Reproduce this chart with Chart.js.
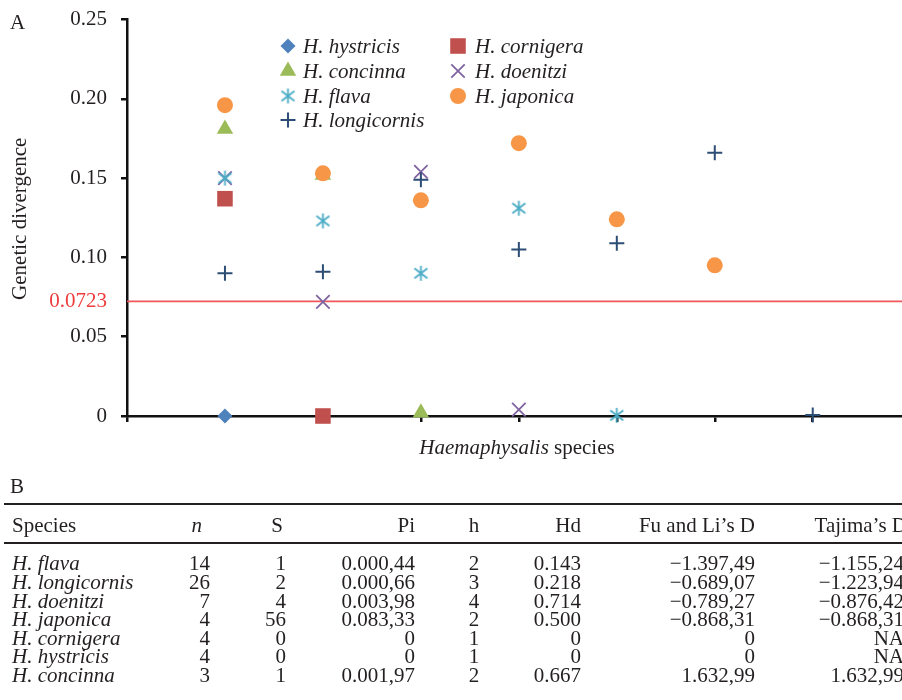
<!DOCTYPE html>
<html>
<head>
<meta charset="utf-8">
<script src="https://cdn.jsdelivr.net/npm/chart.js@4.4.0/dist/chart.umd.min.js"></script>
<style>
html,body{margin:0;padding:0;background:#fff;overflow:hidden;width:902px;height:700px}
#wrap{position:relative;width:902px;height:700px;overflow:hidden;font-family:"Liberation Serif","Times New Roman",serif;color:#231f20}
#chart{position:absolute;left:0;top:0}
#tbl{position:absolute;left:0;top:0;width:1000px;height:700px}
.t{position:absolute;font-size:21px;line-height:21px;white-space:nowrap}
.rule{position:absolute;left:4px;width:990px;background:#231f20}
</style>
</head>
<body>
<div id="wrap">
  <canvas id="chart" width="922" height="470"></canvas>
  <div id="tbl"></div>
</div>
<script>
// ---- data (panel A) ----
// x = 1..7 : compared species, same order as the series below
const seriesNames = ['H. hystricis','H. cornigera','H. concinna','H. doenitzi','H. flava','H. japonica','H. longicornis']
const hystricis   = [0]
const cornigera   = [0.137, 0]
const concinna    = [0.181, 0.152, 0.002]
const doenitzi    = [0.150, 0.072, 0.154, 0.004]
const flava       = [0.150, 0.123, 0.090, 0.131, 0.0004]
const japonica    = [0.196, 0.153, 0.136, 0.172, 0.124, 0.095]
const longicornis = [0.090, 0.091, 0.149, 0.105, 0.109, 0.166, 0.0007]
const seriesValues = [hystricis, cornigera, concinna, doenitzi, flava, japonica, longicornis]
const threshold = 0.0723
const yTicks = [0, 0.05, 0.10, 0.15, 0.20, 0.25]
const yTickLabels = ['0','0.05','0.10','0.15','0.20','0.25']

// ---- data (panel B) ----
const tableHead = ['Species','n','S','Pi','h','Hd','Fu and Li\u2019s D','Tajima\u2019s D']
const species = ['H. flava','H. longicornis','H. doenitzi','H. japonica','H. cornigera','H. hystricis','H. concinna']
const nVals = ['14','26','7','4','4','4','3']
const sVals = ['1','2','4','56','0','0','1']
const piVals = ['0.000,44','0.000,66','0.003,98','0.083,33','0','0','0.001,97']
const hVals = ['2','3','4','2','1','1','2']
const hdVals = ['0.143','0.218','0.714','0.500','0','0','0.667']
const fuLiVals = ['\u22121.397,49','\u22120.689,07','\u22120.789,27','\u22120.868,31','0','0','1.632,99']
const tajimaVals = ['\u22121.155,24','\u22121.223,94','\u22120.876,42','\u22120.868,31','NA','NA','1.632,99']

const FONT = '"Liberation Serif", "Times New Roman", serif'
const INK = '#231f20'

// asterisk marker (x + vertical bar)
function makeAsterisk(color){
  const c = document.createElement('canvas')
  c.width = 17; c.height = 17
  const g = c.getContext('2d')
  g.strokeStyle = color; g.lineWidth = 1.8
  g.beginPath()
  g.moveTo(8.5,1); g.lineTo(8.5,16)
  g.moveTo(2,3.5); g.lineTo(15,13.5)
  g.moveTo(15,3.5); g.lineTo(2,13.5)
  g.stroke()
  return c
}

const styles = [
  {color:'#4F81BD', shape:'rectRot',  r:7.5, bw:0},
  {color:'#C0504D', shape:'rect',     r:11,  bw:0},
  {color:'#9BBB59', shape:'triangle', r:9.5, bw:0},
  {color:'#8064A2', shape:'crossRot', r:9.5, bw:1.8},
  {color:'#4BACC6', shape:makeAsterisk('#4BACC6'), r:8, bw:1.8},
  {color:'#F79646', shape:'circle',   r:8,   bw:0},
  {color:'#2C4D75', shape:'cross',    r:7.5, bw:2}
]

const datasets = seriesValues.map((vals, i) => ({
  label: seriesNames[i],
  data: vals.map((v, j) => ({x: j + 1, y: v})),
  showLine: false,
  pointStyle: styles[i].shape,
  pointRadius: styles[i].r,
  pointHoverRadius: styles[i].r,
  pointBackgroundColor: styles[i].color,
  pointBorderColor: styles[i].color,
  pointBorderWidth: styles[i].bw,
  order: seriesValues.length - i,   // later series on top, like the original
  clip: false
}))
// threshold line
datasets.push({
  label: 'threshold',
  data: [{x: 0, y: threshold}, {x: 8, y: threshold}],
  showLine: true,
  borderColor: '#F0575A',
  borderWidth: 1.6,
  pointRadius: 0,
  order: 100
})

// legend + axis titles drawn on the canvas
const decor = {
  id: 'decor',
  afterDraw(chart){
    const {ctx, chartArea} = chart
    ctx.save()
    ctx.fillStyle = INK
    ctx.font = '21px ' + FONT
    ctx.textAlign = 'center'
    ctx.textBaseline = 'middle'
    ctx.translate(20, (chartArea.top + chartArea.bottom) / 2 + 1)
    ctx.rotate(-Math.PI / 2)
    ctx.fillText('Genetic divergence', 0, 0)
    ctx.restore()

    // x title: italic genus + plain word
    ctx.save()
    ctx.fillStyle = INK
    ctx.textBaseline = 'alphabetic'
    ctx.textAlign = 'left'
    const part1 = 'Haemaphysalis', part2 = ' species'
    ctx.font = 'italic 21px ' + FONT
    const w1 = ctx.measureText(part1).width
    ctx.font = '21px ' + FONT
    const w2 = ctx.measureText(part2).width
    let x0 = 517 - (w1 + w2) / 2
    ctx.font = 'italic 21px ' + FONT
    ctx.fillText(part1, x0, 454)
    ctx.font = '21px ' + FONT
    ctx.fillText(part2, x0 + w1, 454)
    ctx.restore()

    // legend, two columns, row-major
    const colX = [288, 458], textX = [303, 475], rowY = [46, 71, 96, 120]
    ctx.save()
    ctx.font = 'italic 21px ' + FONT
    ctx.textBaseline = 'middle'
    ctx.textAlign = 'left'
    seriesNames.forEach((name, i) => {
      const c = i % 2, r = Math.floor(i / 2)
      const st = styles[i]
      ctx.fillStyle = st.color
      ctx.strokeStyle = st.color
      ctx.lineWidth = st.bw
      if (Chart.helpers && Chart.helpers.drawPoint) {
        Chart.helpers.drawPoint(ctx, {pointStyle: st.shape, radius: st.r, rotation: 0, borderWidth: st.bw}, colX[c], rowY[r])
      }
      ctx.fillStyle = INK
      ctx.fillText(name, textX[c], rowY[r] + 1)
    })
    ctx.restore()
  }
}

const ctx = document.getElementById('chart').getContext('2d')
const myChart = new Chart(ctx, {
  type: 'scatter',
  data: {datasets: datasets},
  plugins: [decor],
  options: {
    responsive: false,
    animation: false,
    events: [],
    layout: {padding: {top: 19.5, right: 0, bottom: 0, left: 0}},
    plugins: {legend: {display: false}, tooltip: {enabled: false}},
    scales: {
      x: {
        type: 'linear',
        min: 0, max: 8,
        ticks: {display: false, stepSize: 1},
        grid: {drawOnChartArea: false, drawTicks: true, tickLength: 6, lineWidth: 2.5, color: '#111'},
        border: {display: true, color: '#111', width: 2.5},
        afterFit: s => { s.height = 54; s.paddingLeft = 0; s.paddingRight = 0 }
      },
      y: {
        min: 0, max: 0.25,
        afterBuildTicks: s => { s.ticks = yTicks.concat([threshold]).map(v => ({value: v})) },
        ticks: {
          autoSkip: false,
          padding: 14,
          font: {family: FONT, size: 21},
          color: c => (c.tick && c.tick.value === threshold) ? '#EE3B3B' : INK,
          callback: v => v === threshold ? String(threshold) : yTickLabels[yTicks.indexOf(v)]
        },
        grid: {
          drawOnChartArea: false, drawTicks: true, tickLength: 6, lineWidth: 2.5,
          color: '#111',
          tickColor: c => (c.tick && c.tick.value === threshold) ? 'rgba(0,0,0,0)' : '#111'
        },
        border: {display: true, color: '#111', width: 2.5},
        afterFit: s => { s.width = 127; s.paddingTop = 0; s.paddingBottom = 0 }
      }
    }
  }
})

// ---- table (panel B) ----
const tbl = document.getElementById('tbl')
function place(text, align, x, baseline, italic){
  const d = document.createElement('div')
  d.className = 't'
  d.textContent = text
  d.style.top = (baseline - 17.6) + 'px'
  if (italic) d.style.fontStyle = 'italic'
  if (align === 'left') { d.style.left = x + 'px' }
  else if (align === 'right') { d.style.left = (x - 300) + 'px'; d.style.width = '300px'; d.style.textAlign = 'right' }
  else { d.style.left = (x - 150) + 'px'; d.style.width = '300px'; d.style.textAlign = 'center' }
  tbl.appendChild(d)
}
function rule(y, h){
  const r = document.createElement('div')
  r.className = 'rule'
  r.style.top = y + 'px'
  r.style.height = h + 'px'
  tbl.appendChild(r)
}
place('A', 'left', 10, 30, false)
place('B', 'left', 10, 494, false)
rule(502.5, 2)
rule(542, 1.5)

const cols = [species, nVals, sVals, piVals, hVals, hdVals, fuLiVals, tajimaVals]
const colAlign = ['left','right','right','right','center','right','right','right']
const headX = [12, 202, 283, 415, 474, 581, 755, 907]
const cellX = [12, 210, 286, 415, 474, 581, 755, 904]
tableHead.forEach((h, i) => place(h, colAlign[i], headX[i], 533, i === 1))
cols.forEach((col, i) => {
  col.forEach((v, r) => place(v, colAlign[i], cellX[i], 571 + r * 18.6, i === 0))
})
</script>
</body>
</html>
